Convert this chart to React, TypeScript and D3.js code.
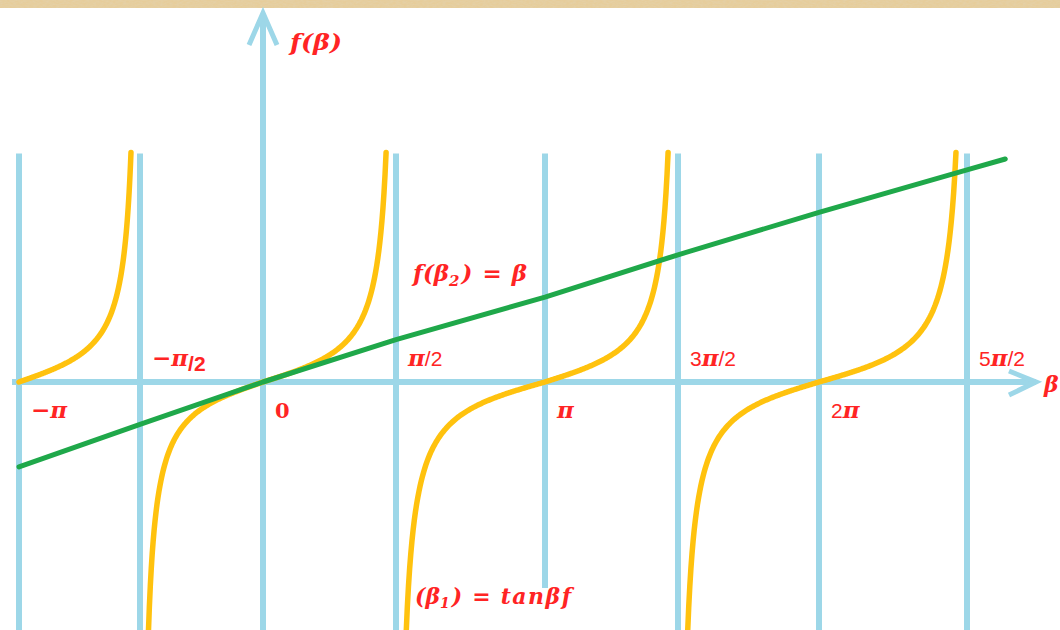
import React from "react";
import * as d3 from "d3";

// β positions of the asymptote / grid lines (multiples of π/2)
const PI = Math.PI;
const gridBetas = [-PI, -PI / 2, 0, PI / 2, PI, (3 * PI) / 2, 2 * PI, (5 * PI) / 2];
const tickLabels = ["−π", "−π/2", "0", "π/2", "π", "3π/2", "2π", "5π/2"];
// odd multiples of π/2 are labelled above the axis, the rest below
const tickAbove = [false, true, false, true, false, true, false, true];

// tan β branches, each as [start β, end β]
const tanBranches: [number, number][] = [
  [-PI, -PI / 2],
  [-PI / 2, PI / 2],
  [PI / 2, (3 * PI) / 2],
  [(3 * PI) / 2, (5 * PI) / 2],
];
const tanTop = 8.5;
const tanBottom = -10.5;

// f(β) = β straight line, β range
const lineBetaStart = -PI;
const lineBetaEnd = 8.26;

const W = 1060;
const H = 630;
const BLUE = "#9dd7e8";
const ORANGE = "#ffc20e";
const GREEN = "#1fa84a";
const RED = "#ff2424";
const MATH = "'DejaVu Serif', serif";
const SANS = "'Liberation Sans', Arial, sans-serif";

// hand-placed asymptote columns
const x = d3
  .scaleLinear()
  .domain(gridBetas)
  .range([19, 140, 263, 396, 545, 678, 819, 967]);
const y = d3.scaleLinear().domain([0, tanTop]).range([382, 152.5]);

const line = d3
  .line<[number, number]>()
  .x((d) => x(d[0]))
  .y((d) => y(d[1]));

function branchPoints(a: number, b: number): [number, number][] {
  const isAsymA = Math.abs(Math.cos(a)) < 1e-9;
  const start = isAsymA ? a + Math.atan(1 / -tanBottom) : a;
  const end = b - Math.atan(1 / tanTop);
  const n = 240;
  const pts: [number, number][] = [];
  for (let i = 0; i <= n; i++) {
    const t = start + ((end - start) * i) / n;
    pts.push([t, Math.tan(t)]);
  }
  return pts;
}

const greenBetas = [lineBetaStart, ...gridBetas.filter((b) => b > lineBetaStart), lineBetaEnd];
const greenPts: [number, number][] = greenBetas.map((b) => [b, b]);

function TickLabel({ label, px, py }: { label: string; px: number; py: number }) {
  // split into math glyphs (π, −) and plain digits / slash
  const parts = label.match(/[−π]+|[^−π]+/g) || [];
  const negFraction = label.startsWith("−") && label.includes("/");
  return (
    <text x={px} y={py} fill={RED}>
      {parts.map((p, i) => {
        const math = /[−π]/.test(p);
        const lowered = negFraction && !math;
        return (
          <tspan
            key={i}
            fontFamily={math ? MATH : p === "0" ? MATH : SANS}
            fontStyle={math ? "italic" : "normal"}
            fontWeight={math || p === "0" || lowered ? "bold" : "normal"}
            fontSize={math ? 23 : 21}
            dy={lowered ? 5 : 0}
          >
            {p}
          </tspan>
        );
      })}
    </text>
  );
}

export default function App() {
  return (
    <svg
      width={W}
      height={H}
      style={{ position: "absolute", left: 0, top: 0, background: "#fff" }}
    >
      <defs>
        <filter id="paper" x="0" y="0" width="100%" height="100%">
          <feTurbulence type="fractalNoise" baseFrequency="0.3 0.7" numOctaves="2" seed="3" result="n" />
          <feColorMatrix
            in="n"
            type="matrix"
            values="0 0 0 0 0.78  0 0 0 0 0.63  0 0 0 0 0.38  0 0 0 2 -0.6"
          />
          <feComposite in2="SourceGraphic" operator="in" />
        </filter>
        <clipPath id="plot">
          <rect x={0} y={0} width={W} height={H} />
        </clipPath>
      </defs>

      {/* paper strip along the top */}
      <rect x={0} y={0} width={W} height={8} fill="#e6cd9b" />
      <rect x={0} y={0} width={W} height={8} fill="#e6cd9b" filter="url(#paper)" />

      {/* asymptote columns */}
      {gridBetas.map((b, i) =>
        b === 0 ? null : (
          <line
            key={i}
            x1={x(b)}
            x2={x(b)}
            y1={y(tanTop) + 1}
            y2={b === PI ? 588 : H}
            stroke={BLUE}
            strokeWidth={6}
          />
        )
      )}

      {/* horizontal β axis */}
      <line x1={12} x2={1036} y1={y(0)} y2={y(0)} stroke={BLUE} strokeWidth={6} />
      <polyline
        points={`1009,371 1036,${y(0)} 1009,395`}
        fill="none"
        stroke={BLUE}
        strokeWidth={5}
        strokeLinejoin="miter"
      />

      {/* vertical f(β) axis */}
      <line x1={x(0)} x2={x(0)} y1={14} y2={H} stroke={BLUE} strokeWidth={6} />
      <polyline
        points={`${x(0) - 14},45 ${x(0)},13 ${x(0) + 14},45`}
        fill="none"
        stroke={BLUE}
        strokeWidth={5}
        strokeLinejoin="miter"
      />

      {/* tan β branches */}
      <g clipPath="url(#plot)">
        {tanBranches.map(([a, b], i) => (
          <path
            key={i}
            d={line(branchPoints(a, b)) || ""}
            fill="none"
            stroke={ORANGE}
            strokeWidth={5.5}
            strokeLinecap="round"
          />
        ))}
      </g>

      {/* f(β) = β */}
      <path
        d={line(greenPts) || ""}
        fill="none"
        stroke={GREEN}
        strokeWidth={5}
        strokeLinecap="round"
        strokeLinejoin="round"
      />

      {/* tick labels */}
      {gridBetas.map((b, i) => (
        <TickLabel
          key={i}
          label={tickLabels[i]}
          px={x(b) + 12}
          py={tickAbove[i] ? 366 : 418}
        />
      ))}

      {/* axis titles */}
      <text
        x={290}
        y={50}
        fill={RED}
        fontFamily={MATH}
        fontStyle="italic"
        fontWeight="bold"
        fontSize={23}
        textLength={52}
        lengthAdjust="spacingAndGlyphs"
      >
        f(β)
      </text>
      <text x={1044} y={392} fill={RED} fontFamily={MATH} fontStyle="italic" fontWeight="bold" fontSize={22}>
        β
      </text>

      {/* curve annotations */}
      <text x={413} y={281} fill={RED} fontFamily={MATH} fontStyle="italic" fontWeight="bold" fontSize={23}>
        f(β<tspan fontSize={15} dy={5}>2</tspan>
        <tspan dy={-5} dx={2}>)</tspan>
        <tspan dx={10}>=</tspan>
        <tspan dx={10}>β</tspan>
      </text>
      <text x={415} y={604} fill={RED} fontFamily={MATH} fontStyle="italic" fontWeight="bold" fontSize={22}>
        (β<tspan fontSize={14} dy={4}>1</tspan>
        <tspan dy={-4} dx={2}>)</tspan>
        <tspan dx={10}>=</tspan>
        <tspan dx={10} letterSpacing={1.5}>tanβf</tspan>
      </text>
    </svg>
  );
}
